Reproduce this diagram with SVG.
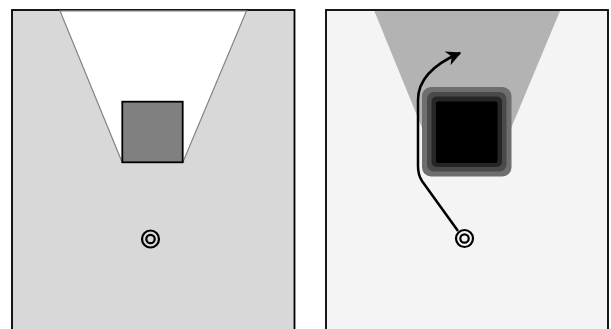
<svg xmlns="http://www.w3.org/2000/svg" width="611" height="329" viewBox="0 0 611 329">
<style>
.panel{stroke:#000;stroke-width:1.8}
.ring{fill:none;stroke:#000;stroke-width:2.2}
</style>
<defs>
<marker id="ah" viewBox="0 0 10 10" refX="9" refY="5" markerUnits="userSpaceOnUse" markerWidth="17" markerHeight="15" orient="auto">
<path d="M0,0 L10,5 L0,10 L3,5 z" fill="#000"/>
</marker>
</defs>
<rect width="611" height="329" fill="#fff"/>
<g id="left-panel">
<rect class="panel" x="12" y="10" width="282.5" height="330" fill="#d8d8d8"/>
<polygon points="60,10.9 246.5,10.9 183,162 122,162" fill="#fff" stroke="#808080" stroke-width="1.2"/>
<rect x="122.3" y="101.7" width="60.4" height="60.6" fill="#808080" stroke="#000" stroke-width="1.8"/>
<circle class="ring" cx="150.5" cy="239" r="8.5"/>
<circle class="ring" cx="150.5" cy="239" r="4.2"/>
</g>
<g id="right-panel">
<rect class="panel" x="326" y="10" width="282" height="330" fill="#f4f4f4"/>
<polygon points="374.3,10.9 560,10.9 497,162 436,162" fill="#b3b3b3"/>
<rect x="422" y="87" width="89.5" height="89.5" rx="9" fill="#6e6e6e"/>
<rect x="427" y="92" width="79.5" height="79.5" rx="7" fill="#4a4a4a"/>
<rect x="431.5" y="96.5" width="70.5" height="70.5" rx="5" fill="#262626"/>
<rect x="436" y="101.5" width="61.5" height="61.5" rx="2" fill="#000"/>
<circle class="ring" cx="464.5" cy="238.5" r="8.5"/>
<circle class="ring" cx="464.5" cy="238.5" r="4.2"/>
</g>
<g id="connectors">
<path d="M458,231 L422,181 Q418,175 418,166 L418,100 C418,80 432,65 460,53" fill="none" stroke="#000" stroke-width="2.5" marker-end="url(#ah)"/>
</g>
</svg>
